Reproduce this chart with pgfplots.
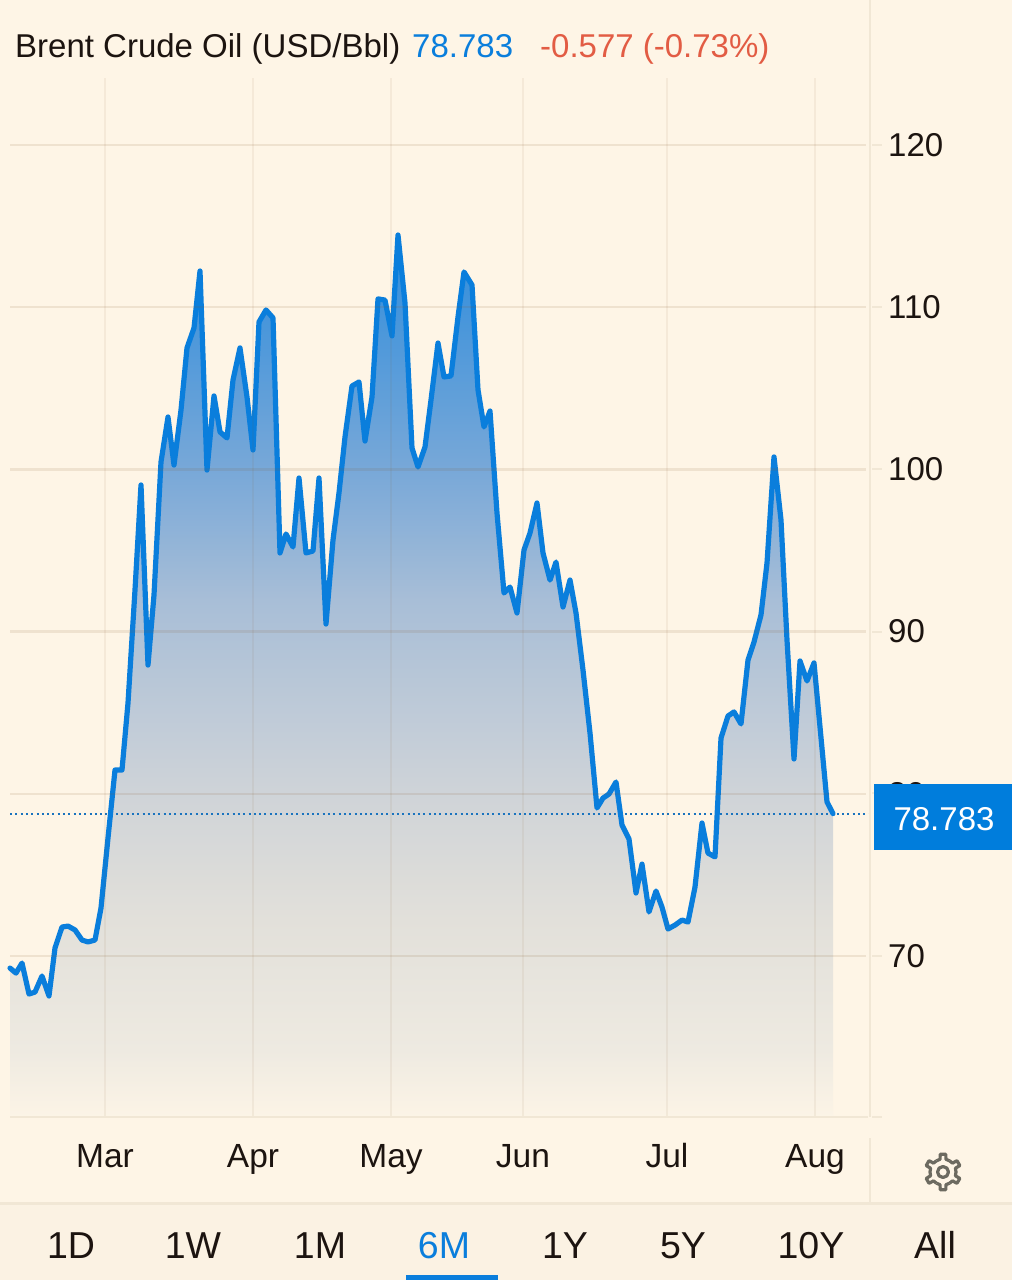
\documentclass[border=0pt]{standalone}
\usepackage{pgfplots}
\usepackage{pgfplotstable}
\usepackage{fontspec}
\setmainfont{Liberation Sans}
\pgfplotsset{compat=1.18}
\definecolor{pagebg}{RGB}{254,245,230}
\definecolor{barbg}{RGB}{251,242,227}
\definecolor{rulec}{RGB}{241,231,213}
\definecolor{oilblue}{RGB}{10,126,220}
\definecolor{boxblue}{RGB}{0,125,220}
\definecolor{dotblue}{RGB}{25,115,190}
\definecolor{redtxt}{RGB}{226,92,68}
\definecolor{darktxt}{RGB}{28,20,16}
\definecolor{gearc}{RGB}{108,106,96}
\definecolor{s0}{RGB}{252,244,230}
\definecolor{s1}{RGB}{238,234,225}
\definecolor{s1b}{RGB}{226,224,218}
\definecolor{s2}{RGB}{208,212,216}
\definecolor{s3}{RGB}{168,190,215}
\definecolor{s4}{RGB}{120,168,216}
\definecolor{s5}{RGB}{45,140,220}
\pgfdeclareverticalshading{oilshade}{100bp}{color(0bp)=(s0); color(25bp)=(s0); color(28.8bp)=(s1); color(36.2bp)=(s1b); color(43bp)=(s2); color(54.3bp)=(s3); color(61.7bp)=(s4); color(75bp)=(s5); color(100bp)=(s5)}
\pgfplotstableread{
x v
10 69.26
16 68.95
22 69.57
29 67.66
35 67.78
42 68.77
49 67.54
55 70.50
62 71.79
68 71.85
75 71.61
82 70.99
88 70.87
95 70.99
101 72.96
108 77.28
115 81.47
122 81.47
128 85.60
135 92.57
141 99.04
148 87.94
154 92.26
161 100.46
168 103.23
174 100.27
181 103.66
187 107.49
194 108.72
200 112.23
207 99.96
214 104.53
220 102.31
227 101.94
233 105.51
240 107.49
247 104.46
253 101.20
259 109.09
266 109.83
273 109.34
280 94.85
286 96.02
293 95.22
299 99.47
306 94.85
313 94.97
319 99.47
326 90.47
333 95.65
339 98.55
345 102.00
352 105.14
359 105.39
365 101.75
372 104.46
378 110.51
385 110.44
392 108.23
398 114.45
405 110.26
412 101.32
418 100.15
425 101.38
431 104.28
438 107.79
444 105.70
451 105.76
458 109.40
464 112.17
472 111.37
478 104.90
484 102.62
490 103.60
497 97.31
504 92.38
510 92.75
517 91.15
524 95.03
530 96.08
537 97.93
543 94.85
550 93.18
556 94.29
563 91.52
570 93.18
576 91.15
583 87.63
590 83.75
597 79.13
603 79.74
609 79.99
616 80.73
622 78.08
629 77.22
636 73.89
642 75.67
649 72.72
656 74.01
662 73.02
668 71.67
675 71.91
682 72.22
688 72.10
695 74.26
702 78.20
708 76.35
715 76.11
721 83.44
728 84.80
734 85.05
741 84.31
748 88.25
754 89.36
761 91.03
767 94.23
774 100.77
781 96.88
787 89.48
794 82.15
800 88.19
807 86.96
814 88.07
820 84.12
827 79.50
833 78.783
}\oil
\newcommand{\fs}[1]{\fontsize{#1}{#1}\selectfont}
\begin{document}
\begin{tikzpicture}[x=1pt,y=1pt]
\path[use as bounding box] (-10,-163) rectangle (1002,1117);
% page background: picture x = px-10, y = 1117-py
\fill[pagebg] (-11,-164) rectangle (1003,1118);
\fill[barbg] (-11,-164) rectangle (1003,-87);
\draw[rulec,line width=2.5pt] (-11,-86.5) -- (1003,-86.5);
\begin{axis}[
  at={(0,0)},anchor=south west,
  scale only axis,width=856pt,height=1039pt,
  xmin=10,xmax=866,ymin=60.08,ymax=124.13,
  clip=false,axis on top=true,
  axis line style={draw=none},
  xtick={105,253,391,523,667,815},
  xticklabels={Mar,Apr,May,Jun,Jul,Aug},
  ytick={70,80,90,100,110,120},
  yticklabel pos=right,
  major tick length=0pt,
  grid=major,
  xmajorgrids=true,ymajorgrids=true,
  x grid style={draw=brown!70!black,opacity=0.07,line width=2.5pt},
  y grid style={draw=brown!70!black,opacity=0.12,line width=2.5pt},
  /pgf/number format/assume math mode=true,
  tick label style={text=darktxt,inner sep=0pt},
  yticklabel style={font=\fs{33},anchor=west,xshift=22pt},
  xticklabel style={font=\fs{33.5},anchor=north,yshift=-26pt,text height=24pt,text depth=7pt},
]
\addplot[draw=none,shade,shading=oilshade] table[x=x,y=v]{\oil} \closedcycle;
\addplot[dotblue,line width=2pt,dash pattern=on 2pt off 3.3pt] coordinates {(10,78.783)(874,78.783)};
\addplot[oilblue,line width=5.2pt,line join=round,line cap=round] table[x=x,y=v]{\oil};
\end{axis}
% frame rules
\draw[rulec,line width=2.5pt] (860,1118) -- (860,0);
\draw[rulec,line width=2.5pt] (860,-21) -- (860,-86);
\draw[rulec,line width=2.5pt] (0,0) -- (858,0);
\foreach \py in {145,307,469,632,793,956,1117}{\draw[rulec,line width=2.5pt] (862,1117-\py) -- (872,1117-\py);}
% price box
\fill[boxblue] (864,333) rectangle (1003,267);
\node[text=white,font=\fs{33},inner sep=0pt] at (934,298) {78.783};
% header
\node[anchor=base west,inner sep=0pt,font=\fs{33},text=darktxt] at (5,1059) {Brent Crude Oil (USD/Bbl)};
\node[anchor=base west,inner sep=0pt,font=\fs{33},text=oilblue] at (402,1059) {78.783};
\node[anchor=base west,inner sep=0pt,font=\fs{33},text=redtxt] at (530,1059) {-0.577 (-0.73\%)};
% range bar
\foreach \t/\xc in {1D/61,1W/183,1M/310,1Y/555,5Y/673,10Y/801,All/925}{
  \node[anchor=base,inner sep=0pt,font=\fs{37.5},text=darktxt] at (\xc,-141) {\t};}
\node[anchor=base,inner sep=0pt,font=\fs{37.5},text=oilblue] at (434,-141) {6M};
\fill[oilblue] (396,-164) rectangle (488,-158);
% gear
\begin{scope}[shift={(933,-55)},gearc,line width=3.2pt,line join=round]
\draw (0,0) circle (5.5);
\foreach \a in {90,150,...,390}{
  \draw (\a-30:13) -- (\a-13:13) -- (\a-9:18) -- (\a+9:18) -- (\a+13:13) -- (\a+30:13);}
\end{scope}
\end{tikzpicture}
\end{document}
